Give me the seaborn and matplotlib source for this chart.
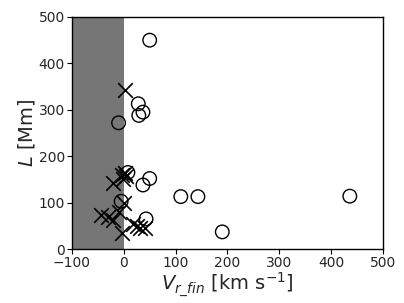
import numpy as np
import pandas as pd
import matplotlib
matplotlib.use("Agg")
import matplotlib.pyplot as plt
import seaborn as sns

# events with circle markers
vr_circ = [50, 28, 37, 29, -10, 8, 37, 50, 110, 143, -5, 43, 436, 190]
L_circ = [450, 313, 295, 288, 272, 165, 138, 152, 113, 113, 103, 65, 114, 37]

# events with cross markers
vr_x = [3, -20, -4, 2, -1, 5, 1, -43, -30, -20, -10, -4, 18, 31, 41, 25]
L_x = [342, 143, 160, 163, 152, 157, 100, 73, 70, 62, 80, 34, 55, 45, 45, 50]

df_circ = pd.DataFrame({'vr': vr_circ, 'L': L_circ})
df_x = pd.DataFrame({'vr': vr_x, 'L': L_x})

sns.set_style("ticks")
plt.rcParams['font.family'] = ['DejaVu Sans']
plt.rcParams['mathtext.fontset'] = 'dejavusans'

fig = plt.figure(figsize=(4.04, 3.03), dpi=100)
ax = fig.add_axes([0.178, 0.178, 0.77, 0.766])

ax.axvspan(-100, 0, color='#767676', lw=0, zorder=0)

sns.scatterplot(data=df_circ, x='vr', y='L', ax=ax, marker='o', s=95,
                facecolor='none', edgecolor='black', linewidth=1, zorder=3)
sns.scatterplot(data=df_x, x='vr', y='L', ax=ax, marker='x', s=110,
                color='black', linewidth=1.2, zorder=3)

ax.set_xlim(-100, 500)
ax.set_ylim(0, 500)
ax.set_xticks([-100, 0, 100, 200, 300, 400, 500])
ax.set_yticks([0, 100, 200, 300, 400, 500])
ax.tick_params(labelsize=10, length=3.5, pad=1.5, color='black')
for sp in ax.spines.values():
    sp.set_color('black')
    sp.set_linewidth(1)
ax.set_xlabel(r'$V_{r\_fin}$ [km s$^{-1}$]', fontsize=14, labelpad=0)
ax.set_ylabel(r'$L$ [Mm]', fontsize=14, labelpad=1)

fig.savefig('out.png', dpi=100)
